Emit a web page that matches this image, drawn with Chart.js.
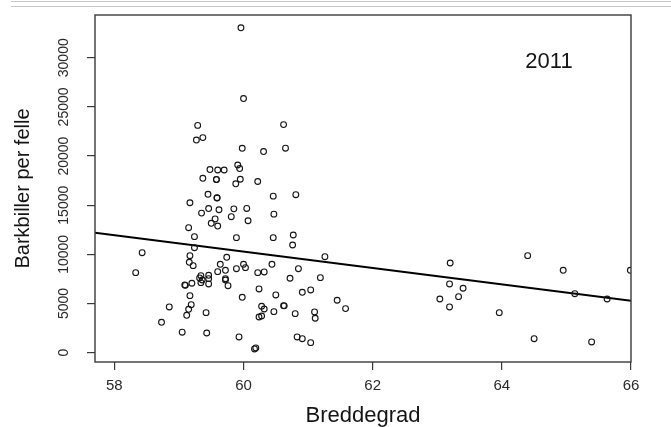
<!DOCTYPE html>
<html lang="no">
<head>
<meta charset="UTF-8">
<title>Barkbiller per felle 2011</title>
<script src="https://cdn.jsdelivr.net/npm/chart.js"></script>
<style>
  body { margin: 0; background: #fff; }
  .wrap { position: relative; width: 671px; height: 427px; }
  .rule { position: absolute; left: 11px; right: 0; height: 1px; background: #c6c6c6; }
</style>
</head>
<body>
<div class="wrap">
  <canvas id="beetleChart" width="671" height="427"></canvas>
  <div class="rule" style="top:1px"></div>
  <div class="rule" style="top:6px"></div>
</div>
<script>
// latitude (Breddegrad) and beetles per trap
const latitude = [
  59.96, 60.00, 59.29, 60.62, 59.27, 59.37, 59.98, 60.31, 60.65, 59.91,
  59.94, 59.48, 59.60, 59.70, 59.37, 59.58, 59.58, 59.95, 59.88, 60.22,
  59.45, 59.59, 59.59, 60.46, 60.81, 59.17, 59.35, 59.46, 59.62, 59.85,
  60.05, 60.47, 59.56, 59.50, 59.60, 59.81, 60.07, 59.15, 59.24, 59.89,
  60.46, 60.77, 60.76, 59.24, 58.43, 59.17, 59.74, 61.26, 59.16, 59.22,
  59.64, 60.00, 60.03, 59.89, 60.44, 60.85, 59.60, 59.72, 60.22, 60.32,
  58.33, 59.34, 59.46, 59.32, 59.46, 59.36, 59.72, 59.72, 60.72, 61.19,
  59.09, 59.10, 59.20, 59.34, 59.46, 59.76, 60.24, 60.91, 61.04, 59.17,
  59.98, 60.50, 61.45, 58.85, 59.19, 59.15, 59.42, 59.12, 60.28, 60.32,
  60.62, 60.63, 60.47, 60.80, 61.10, 61.11, 60.24, 60.28, 58.73, 59.05,
  59.43, 59.93, 60.83, 60.91, 61.04, 60.17, 60.19, 61.58, 63.20, 64.40,
  64.95, 65.99, 63.19, 63.40, 63.33, 63.04, 63.19, 63.96, 65.13, 65.63,
  64.50, 65.39
];
const beetles = [
  33050, 25850, 23120, 23200, 21630, 21880, 20790, 20460, 20800, 19090,
  18730, 18630, 18580, 18580, 17740, 17630, 17600, 17640, 17180, 17410,
  16110, 15760, 15730, 15920, 16070, 15250, 14200, 14660, 14540, 14630,
  14670, 14090, 13600, 13160, 12880, 13830, 13420, 12710, 11800, 11700,
  11700, 11970, 10950, 10680, 10170, 9870, 9700, 9760, 9190, 8850,
  8990, 8990, 8650, 8540, 8990, 8540, 8240, 8380, 8140, 8210,
  8140, 7830, 7870, 7600, 7530, 7390, 7530, 7390, 7570, 7630,
  6890, 6850, 7060, 7120, 6990, 6810, 6480, 6140, 6380, 5800,
  5630, 5870, 5330, 4650, 4880, 4410, 4070, 3800, 4720, 4440,
  4780, 4760, 4170, 3970, 4140, 3500, 3630, 3730, 3090, 2080,
  2000, 1600, 1600, 1420, 1020, 380, 480, 4480, 9120, 9870,
  8380, 8380, 6990, 6550, 5700, 5460, 4650, 4070, 6000, 5460,
  1420, 1090
];

// fitted regression line, across the whole plot box
const trendLatitude = [57.7, 66];
const trendBeetles = [12200, 5290];

const xTicks = [58, 60, 62, 64, 66];
const yTicks = [0, 5000, 10000, 15000, 20000, 25000, 30000];
const yearText = '2011';

Chart.defaults.font.family = '"Liberation Sans", Arial, sans-serif';
Chart.defaults.color = '#2a2a2a';

const frame = {
    id: 'frame',
    afterDatasetsDraw(chart) {
        const { ctx, chartArea: a, scales } = chart;
        ctx.save();
        ctx.strokeStyle = '#3a3a3a';
        ctx.lineWidth = 1.4;
        ctx.strokeRect(a.left, a.top, a.right - a.left, a.bottom - a.top);
        ctx.fillStyle = '#151515';
        ctx.font = '22px "Liberation Sans", Arial, sans-serif';
        ctx.textAlign = 'center';
        ctx.textBaseline = 'middle';
        ctx.fillText(yearText, scales.x.getPixelForValue(64.73), scales.y.getPixelForValue(29570));
        ctx.restore();
    }
};

const ctx = document.getElementById('beetleChart').getContext('2d');
new Chart(ctx, {
    type: 'scatter',
    data: {
        datasets: [
            {
                data: latitude.map((x, i) => ({ x: x, y: beetles[i] })),
                pointStyle: 'circle',
                pointRadius: 2.9,
                pointBorderWidth: 1.1,
                pointBorderColor: '#151515',
                pointBackgroundColor: 'rgba(0,0,0,0)'
            },
            {
                type: 'line',
                data: trendLatitude.map((x, i) => ({ x: x, y: trendBeetles[i] })),
                borderColor: '#000',
                borderWidth: 2,
                pointRadius: 0,
                fill: false
            }
        ]
    },
    options: {
        responsive: false,
        animation: false,
        layout: { padding: { top: 15, right: 40, left: 0, bottom: 0 } },
        plugins: { legend: { display: false }, tooltip: { enabled: false } },
        scales: {
            x: {
                type: 'linear',
                min: 57.7,
                max: 66,
                afterBuildTicks: s => { s.ticks = xTicks.map(v => ({ value: v })); },
                afterFit: s => { s.height = 65; s.paddingLeft = 0; s.paddingRight = 0; },
                border: { display: false },
                grid: { drawOnChartArea: false, drawTicks: true, tickLength: 8, tickColor: '#3a3a3a', lineWidth: 1.2 },
                ticks: { padding: 7, font: { size: 15 }, callback: v => String(v) },
                title: { display: true, text: 'Breddegrad', font: { size: 22, lineHeight: 1 }, color: '#151515', padding: { top: 0, bottom: 0 } }
            },
            y: {
                type: 'linear',
                min: -950,
                max: 34350,
                afterBuildTicks: s => { s.ticks = yTicks.map(v => ({ value: v })); },
                afterFit: s => { s.width = 95; s.paddingTop = 0; s.paddingBottom = 0; },
                border: { display: false },
                grid: { drawOnChartArea: false, drawTicks: true, tickLength: 8, tickColor: '#3a3a3a', lineWidth: 1.2 },
                ticks: { padding: 3, minRotation: 90, maxRotation: 90, crossAlign: 'center', font: { size: 14 }, callback: v => String(v) },
                title: { display: true, text: 'Barkbiller per felle', font: { size: 20 }, color: '#151515', padding: { top: 11, bottom: 0 } }
            }
        }
    },
    plugins: [frame]
});
</script>
</body>
</html>
